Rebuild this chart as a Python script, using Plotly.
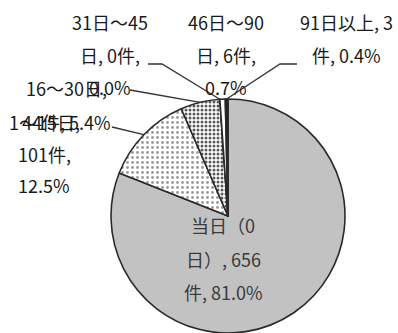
import math
import plotly.graph_objects as go

# Waiting-period breakdown (days) with counts and shares
categories = ["当日（0日）", "1～15日", "16～30日", "31日～45日", "46日～90日", "91日以上"]
counts = [656, 101, 44, 0, 6, 3]
percents = [81.0, 12.5, 5.4, 0.0, 0.7, 0.4]

W, H = 398, 333
CX, CY, R = 228, 216, 117          # pie centre and radius in pixels (y from top)
FONT = "Noto Sans CJK JP, Noto Sans, sans-serif"
FS = 18

fills = ["#c2c2c2", "#ffffff", "#ffffff", "#ffffff", "#ffffff", "#1e1e1e"]
pat_shape = ["", ".", ".", "", "", ""]
pat_fg = ["#c2c2c2", "#9a9a9a", "#5a5a5a", "#ffffff", "#ffffff", "#1e1e1e"]
pat_bg = fills
pat_size = [6, 5, 4, 6, 6, 6]
pat_solid = [0.3, 0.25, 0.45, 0.3, 0.3, 0.3]

# label layout: character breaks for wrapping, line centre x, first line y, line gap
label_breaks = [[4, 11], [6, 12], [7], [6, 12], [6, 12], [8]]
label_x = [223, 44, 66, 110, 226, 346]
label_y0 = [225, 122, 88, 22, 22, 22]
label_gap = [33.5, 31.5, 34, 32.5, 32.5, 32.5]
label_color = ["#3a3a3a", "#1a1a1a", "#1a1a1a", "#1a1a1a", "#1a1a1a", "#1a1a1a"]
# label-side points of the leader lines (pixels); None = no leader
leader_pts = [None, [(112, 127)], [(130, 90)], [(148, 64), (162, 64)], None,
              [(297, 64), (280, 64)]]


def px(x):
    return x / W


def py(y):
    return 1 - y / H


fig = go.Figure(go.Pie(
    labels=categories,
    values=counts,
    sort=False,
    direction="clockwise",
    rotation=0,
    textinfo="none",
    hoverinfo="skip",
    showlegend=False,
    marker=dict(
        colors=fills,
        line=dict(color="#2a2a2a", width=1.6),
        pattern=dict(shape=pat_shape, fgcolor=pat_fg, bgcolor=pat_bg,
                     size=pat_size, solidity=pat_solid),
    ),
    domain=dict(x=[px(CX - R), px(CX + R)], y=[py(CY + R), py(CY - R)]),
))

total = sum(counts)
annotations = []
shapes = []
cum = 0.0
for i, cat in enumerate(categories):
    frac = counts[i] / total
    mid = cum + frac / 2
    cum += frac
    text = f"{cat}, {counts[i]}件, {percents[i]:.1f}%"
    cuts = [0] + label_breaks[i] + [len(text)]
    lines = [text[a:b].strip() for a, b in zip(cuts[:-1], cuts[1:])]
    for k, line in enumerate(lines):
        annotations.append(dict(
            text=line, xref="paper", yref="paper",
            x=px(label_x[i]), y=py(label_y0[i] + k * label_gap[i]),
            xanchor="center", yanchor="middle", showarrow=False,
            font=dict(family=FONT, size=FS, color=label_color[i]),
        ))
    if leader_pts[i]:
        ang = 2 * math.pi * mid
        ex, ey = CX + R * math.sin(ang), CY - R * math.cos(ang)
        pts = leader_pts[i] + [(ex, ey)]
        path = "M " + " L ".join(f"{px(x):.5f},{py(y):.5f}" for x, y in pts)
        shapes.append(dict(type="path", xref="paper", yref="paper", path=path,
                           line=dict(color="#333333", width=1.3)))

fig.update_layout(
    width=W, height=H,
    margin=dict(l=0, r=0, t=0, b=0),
    paper_bgcolor="white", plot_bgcolor="white",
    annotations=annotations, shapes=shapes,
)

fig.write_html("out.html")
